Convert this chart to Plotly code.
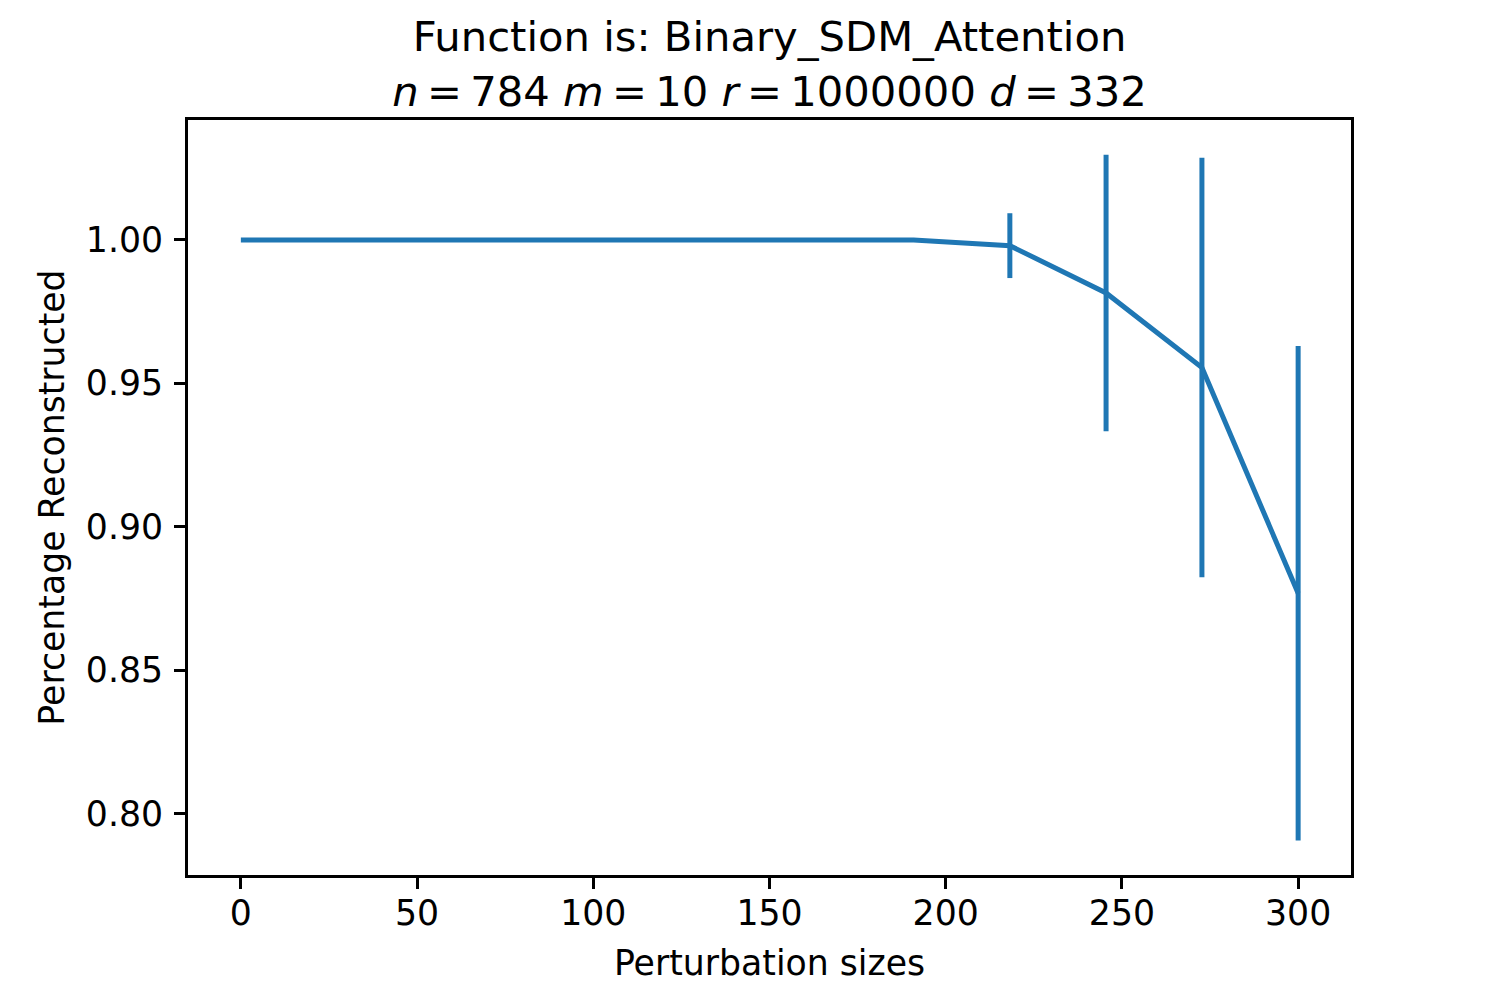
import plotly.graph_objects as go

# perturbation sizes (x) and mean fraction reconstructed with std error bars
perturbation = [0, 27.3, 54.5, 81.8, 109.1, 136.4, 163.6, 190.9, 218.2, 245.5, 272.7, 300]
reconstructed = [1.0, 1.0, 1.0, 1.0, 1.0, 1.0, 1.0, 1.0, 0.998, 0.9815, 0.9555, 0.8768]
std_err = [0, 0, 0, 0, 0, 0, 0, 0, 0.0113, 0.0482, 0.0731, 0.0862]

x_ticks = [0, 50, 100, 150, 200, 250, 300]
y_ticks = [0.80, 0.85, 0.90, 0.95, 1.00]
y_tick_labels = ["0.80", "0.85", "0.90", "0.95", "1.00"]

blue = "#1f77b4"
font_family = "DejaVu Sans"
fs = 34.7

fig = go.Figure(go.Scatter(
    x=perturbation,
    y=reconstructed,
    mode="lines",
    line=dict(color=blue, width=5),
    error_y=dict(type="data", array=std_err, visible=True,
                 color=blue, thickness=5, width=0),
    showlegend=False,
))

axis_common = dict(
    showline=True, linecolor="black", linewidth=3, mirror=True,
    ticks="outside", ticklen=11, tickwidth=3, tickcolor="black",
    showgrid=False, zeroline=False,
    tickfont=dict(family=font_family, size=fs, color="black"),
    title_font=dict(family=font_family, size=fs, color="black"),
)

fig.update_xaxes(
    range=[-15, 315], tickvals=x_ticks,
    ticklabelstandoff=-6,
    title_text="Perturbation sizes", title_standoff=20,
    **axis_common
)
fig.update_yaxes(
    range=[0.7786, 1.0418], tickvals=y_ticks, ticktext=y_tick_labels,
    ticklabelstandoff=4,
    title_text="Percentage Reconstructed", title_standoff=11,
    **axis_common
)

eq = "&#8201;=&#8201;"
fig.update_layout(
    width=1484, height=984,
    margin=dict(l=180, r=141, t=112, b=117),
    paper_bgcolor="white", plot_bgcolor="white",
    font=dict(family=font_family, color="black"),
    title=dict(
        text="Function is: Binary_SDM_Attention<br>"
             f"<i>n</i>{eq}784 <i>m</i>{eq}10 <i>r</i>{eq}1000000 <i>d</i>{eq}332",
        x=0.5, xanchor="center", xref="paper",
        y=0.956, yanchor="middle", yref="container",
        font=dict(family=font_family, size=41.7, color="black"),
    ),
)

fig.write_html("out.html")
